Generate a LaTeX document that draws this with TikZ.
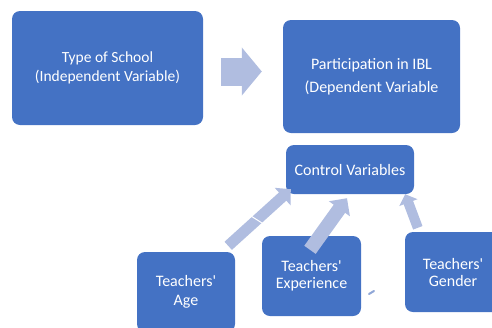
\documentclass[tikz,border=0pt]{standalone}
\usepackage{fontspec}
\setmainfont{Carlito}
\usetikzlibrary{arrows.meta,calc}
\definecolor{boxblue}{RGB}{68,114,196}
\definecolor{arrowblue}{RGB}{176,189,224}

\begin{document}
\begin{tikzpicture}[x=1pt, y=-1pt]
			\tikzstyle{Box}		= [rectangle, rounded corners=8pt, fill=boxblue, text=white, align=center, inner sep=0pt]
			\tikzstyle{Big}		= [font=\fontsize{15.5}{19}\selectfont]
			\tikzstyle{Small}	= [font=\fontsize{16}{17}\selectfont]
			\tikzstyle{Block}	= [draw=arrowblue, color=arrowblue]
			
			\clip (0, 0) rectangle (492, 327);
			\useasboundingbox (0, 0) rectangle (492, 327);
			
			\node (school) at (107.5, 68) [Box][Big, minimum width=191pt, minimum height=114pt] {Type of School\\(Independent Variable)};
			\node (ibl) at (371.5, 76.5) [Box][Small, minimum width=177pt, minimum height=113pt] {Participation in IBL\\[6pt](Dependent Variable};
			\node (ctrl) at (350, 169.5) [Box][Small, minimum width=128pt, minimum height=49pt] {Control Variables};
			\node (age) at (186, 292) [Box][Small, minimum width=98pt, minimum height=80pt] {Teachers\textquotesingle\\[2pt]Age};
			\node (exper) at (311.5, 276) [Box][Small, minimum width=99pt, minimum height=80pt] {Teachers\textquotesingle\\Experience};
			\node (gender) at (453, 272) [Box][Small, minimum width=96pt, minimum height=80pt] {Teachers\textquotesingle\\Gender};
			
			\draw [-{Triangle[length=20pt, width=47pt]}] ($(school.east)+(18,3.5)$) to ($(ibl.west)+(-21,-5)$) [Block, line width=28pt];
			\draw [-{Triangle[length=11pt, width=23pt]}] ($(age.north east)+(-7,-6)$) to ($(ctrl.south west)+(5,-5)$) [Block, line width=11pt];
			\draw [-{Triangle[length=13pt, width=25pt]}] ($(exper.north)+(-1.5,14)$) to ($(ctrl.south)+(-3,4)$) [Block, line width=14pt];
			\draw [-{Triangle[length=9pt, width=19pt]}] ($(gender.north west)+(13,-4)$) to ($(ctrl.south east)+(-9,0)$) [Block, line width=10pt];
			
			\draw [white, line width=1pt] (251, 216) to (262, 223);
			\draw [arrowblue!70!boxblue, line width=2pt, line cap=round] (369, 294) to (374, 291);
		\end{tikzpicture}
\end{document}
